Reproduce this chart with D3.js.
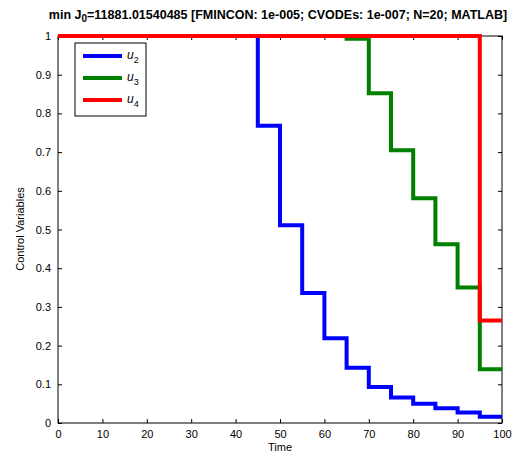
<!DOCTYPE html>
<html><head><meta charset="utf-8">
<script src="https://cdn.jsdelivr.net/npm/d3@7"></script>
<style>body{margin:0;background:#fff;} text{font-family:"Liberation Sans",Arial,sans-serif;}</style>
</head><body>
<svg id="c" width="516" height="456"></svg>
<script>
const times = d3.range(0, 101, 5); // 21 nodes, 20 intervals
const u2 = [1,1,1,1,1,1,1,1,1,0.768,0.511,0.336,0.219,0.143,0.093,0.066,0.050,0.038,0.027,0.016];
const u3 = [1,1,1,1,1,1,1,1,1,1,1,1,1,0.993,0.852,0.705,0.581,0.462,0.350,0.139];
const u4 = [1,1,1,1,1,1,1,1,1,1,1,1,1,1,1,1,1,1,1,0.265];
const seriesNames = ["u2","u3","u4"];
const seriesColors = ["#0000ff","#008000","#ff0000"];
const xTicks = [0,10,20,30,40,50,60,70,80,90,100];
const yTicks = [0,0.1,0.2,0.3,0.4,0.5,0.6,0.7,0.8,0.9,1];

const svg = d3.select("#c");
const L=58, R=502, T=36, B=423;
const x = d3.scaleLinear().domain([0,100]).range([L,R]);
const y = d3.scaleLinear().domain([0,1]).range([B,T]);

// axes box
svg.append("rect").attr("x",L).attr("y",T).attr("width",R-L).attr("height",B-T)
  .attr("fill","none").attr("stroke","#000").attr("stroke-width",1);

const xb = svg.append("g").attr("transform",`translate(0,${B})`)
  .call(d3.axisBottom(x).tickValues(xTicks).tickSize(-4).tickPadding(7).tickFormat(d3.format("d")));
const xt = svg.append("g").attr("transform",`translate(0,${T})`)
  .call(d3.axisTop(x).tickValues(xTicks).tickSize(-4).tickFormat(""));
const yl = svg.append("g").attr("transform",`translate(${L},0)`)
  .call(d3.axisLeft(y).tickValues(yTicks).tickSize(-4).tickPadding(7).tickFormat(d=>d3.format("")(+d.toFixed(1))));
const yr = svg.append("g").attr("transform",`translate(${R},0)`)
  .call(d3.axisRight(y).tickValues(yTicks).tickSize(-4).tickFormat(""));
[xb,xt,yl,yr].forEach(g=>{
  g.select(".domain").remove();
  g.selectAll("text").attr("font-size",11).attr("fill","#000").attr("font-family","Liberation Sans, Arial, sans-serif");
  g.selectAll("line").attr("stroke","#000");
});

// series
const line = d3.line().x(d=>x(d[0])).y(d=>y(d[1])).curve(d3.curveStepAfter);
[u2,u3,u4].forEach((vals,i)=>{
  const pts = vals.map((v,k)=>[times[k],v]);
  pts.push([times[20], vals[19]]);
  svg.append("path").attr("d",line(pts)).attr("fill","none")
    .attr("stroke",seriesColors[i]).attr("stroke-width",4).attr("stroke-linejoin","miter");
});

// title
const tt = svg.append("text").attr("x",278).attr("y",19).attr("text-anchor","middle")
  .attr("font-size",12.5).attr("font-weight","bold").attr("fill","#000");
tt.append("tspan").text("min J");
tt.append("tspan").text("0").attr("dy",3).attr("font-size",10);
tt.append("tspan").text("=11881.01540485 [FMINCON: 1e-005; CVODEs: 1e-007; N=20; MATLAB]").attr("dy",-3);

// axis labels
svg.append("text").attr("x",280).attr("y",451).attr("text-anchor","middle").attr("font-size",11).text("Time");
svg.append("text").attr("transform","translate(24,229) rotate(-90)").attr("text-anchor","middle").attr("font-size",11).text("Control Variables");

// legend
const lg = svg.append("g");
lg.append("rect").attr("x",75).attr("y",43).attr("width",71).attr("height",73)
  .attr("fill","#fff").attr("stroke","#000").attr("stroke-width",1);
seriesNames.forEach((n,i)=>{
  const yy = 56 + i*22;
  lg.append("line").attr("x1",83).attr("x2",122).attr("y1",yy).attr("y2",yy)
    .attr("stroke",seriesColors[i]).attr("stroke-width",4);
  const t = lg.append("text").attr("x",127).attr("y",yy+3).attr("font-size",12).attr("font-style","italic");
  t.append("tspan").text("u");
  t.append("tspan").text(n.slice(1)).attr("dy",4).attr("font-size",9).attr("font-style","normal");
});
</script>
</body></html>
